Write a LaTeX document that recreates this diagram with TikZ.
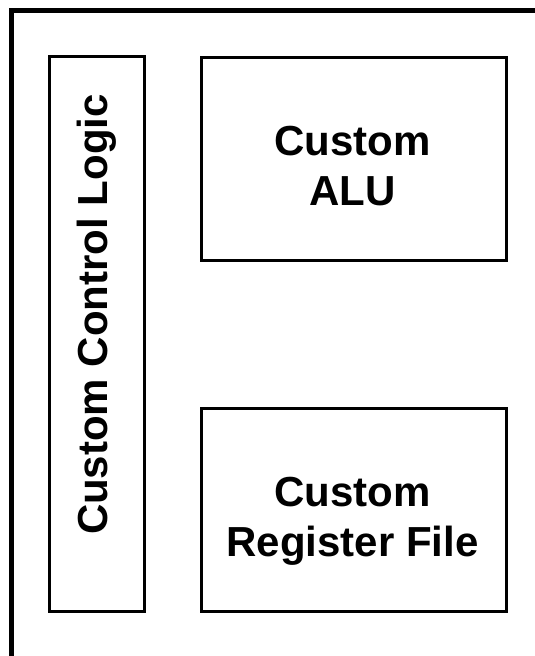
\documentclass[tikz,border=0pt]{standalone}
\usepackage{fontspec}
\setmainfont{Liberation Sans}
\begin{document}
\begin{tikzpicture}[x=1pt,y=-1pt,
  frame/.style={draw=black,line width=5pt},
  blockbox/.style={draw=black,line width=3pt},
  lbl/.style={font=\bfseries\fontsize{42}{50}\selectfont,anchor=base,inner sep=0pt}]
\useasboundingbox (0,0) rectangle (535,656);
\begin{scope}
\clip (0,0) rectangle (535,656);
\draw[frame] (11.5,10) rectangle (580,700);
\end{scope}
\draw[blockbox] (49,56.5) rectangle (144.5,611.5);
\draw[blockbox] (201.5,57) rectangle (506,260);
\draw[blockbox] (201.5,408.5) rectangle (506,611.5);
\node[lbl,rotate=90] (ctl) at (107,314.5) {Custom Control Logic};
\node[lbl] (alu1) at (352.5,155) {Custom};
\node[lbl] (alu2) at (352.5,205) {ALU};
\node[lbl] (rf1) at (352.5,506.7) {Custom};
\node[lbl] (rf2) at (352.5,556.7) {Register File};
\end{tikzpicture}
\end{document}
